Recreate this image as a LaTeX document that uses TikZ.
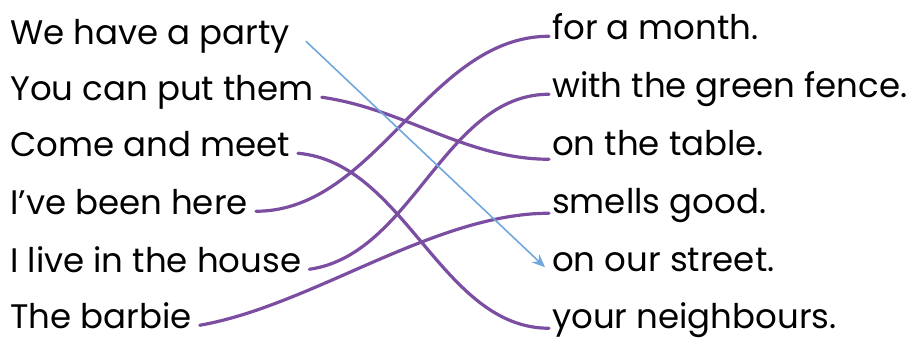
\documentclass[tikz,border=0pt]{standalone}
\usepackage{fontspec}
\setmainfont{Poppins}
\usetikzlibrary{arrows.meta}
\definecolor{matchpurple}{HTML}{7B4EA2}
\definecolor{guessblue}{HTML}{6FA8DC}
\tikzset{
  phrase/.style={font=\fontsize{34}{34}\selectfont, text=black, inner ysep=0pt,
    text height=0.75em, text depth=0.2em, anchor=base west},
  lhs/.style={phrase, inner xsep=8pt},
  rhs/.style={phrase, inner xsep=3pt},
  match/.style={matchpurple, line width=3.2pt, line cap=round},
  guess/.style={guessblue, line width=1.6pt, -{Stealth[length=13pt,width=11pt]}}
}
\begin{document}
\begin{tikzpicture}[x=1pt, y=-1pt]
        \useasboundingbox (0,0) rectangle (914,341);

        % Left halves
        \node[lhs] (l1) at (2,44) {We have a party};
        \node[lhs] (l2) at (2,100) {You can put them};
        \node[lhs] (l3) at (2,156) {Come and meet};
        \node[lhs] (l4) at (2,214) {I’ve been here};
        \node[lhs] (l5) at (2,272) {I live in the house};
        \node[lhs] (l6) at (2,328) {The barbie};

        % Right halves
        \node[rhs] (r1) at (549,39) {for a month.};
        \node[rhs] (r2) at (549,97) {with the green fence.};
        \node[rhs] (r3) at (549,155) {on the table.};
        \node[rhs] (r4) at (549,213) {smells good.};
        \node[rhs] (r5) at (549,271) {on our street.};
        \node[rhs] (r6) at (549,328) {your neighbours.};

        % Matches
        \draw[match] (l2.east) to[out=-8, in=180, looseness=0.9] ([yshift=-7pt]r3.west);
        \draw[match] (l3.east) to[out=-5, in=180, looseness=0.9] ([yshift=-3pt]r6.west);
        \draw[match] (l4.east) to[out=0, in=180, looseness=0.9] (r1.west);
        \draw[match] (l5.east) to[out=8, in=180, looseness=0.9] (r2.west);
        \draw[match] (l6.east) to[out=10, in=180, looseness=0.8] ([yshift=-3pt]r4.west);

        % Example arrow
        \draw[guess] ([xshift=8pt]l1.east) -- ([xshift=-4pt,yshift=1pt]r5.west);
\end{tikzpicture}
\end{document}
